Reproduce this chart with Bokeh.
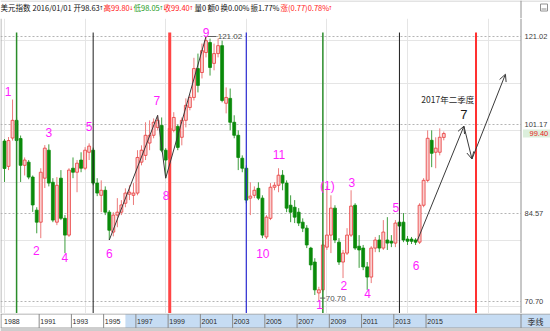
from bokeh.plotting import figure
from bokeh.models import Range1d, FixedTicker, Grid, Arrow, OpenHead
from bokeh.layouts import column
from bokeh.embed import file_html
from bokeh.resources import INLINE
from bokeh.core.properties import value

# ---------------- data (US Dollar Index, quarterly, 1988Q4 .. 2016Q1) ----------------
opens = [97.9, 93.0, 98.5, 102.1, 98.4, 93.2, 93.8, 91.0, 85.1, 83.05,
         90.8, 96.1, 90.05, 83.05, 90.8, 83.7, 80.9, 92.65, 91.9, 94.2,
         92.65, 95.7, 96.1, 89.9, 87.7, 88.6, 84.75, 81.4, 84.25, 84.75,
         86.3, 87.9, 87.7, 88.1, 93.8, 95.1, 97.5, 99.05, 100.65, 101.05,
         96.1, 94.55, 100.05, 100.85, 98.65, 102.1, 104.8, 106.95, 113.4, 112.5,
         117.15, 119.55, 114.6, 116.9, 118.8, 105.7, 106.75, 101.7, 99.05, 94.55,
         92.65, 87.2, 87.7, 88.95, 87.2, 80.6, 83.7, 89.15, 89.5, 91.35,
         89.9, 85.95, 85.6, 84.75, 83.05, 82.05, 78.8, 76.6, 71.95, 72.4,
         78.95, 80.9, 85.45, 79.75, 76.6, 78.0, 80.9, 85.95, 79.1, 78.8,
         75.85, 74.3, 78.8, 80.1, 78.8, 80.1, 79.9, 79.6, 83.05, 83.05,
         80.25, 80.25, 80.1, 79.75, 85.95, 90.4, 98.05, 95.7, 95.7, 98.63]
highs = [98.3, 98.7, 106.5, 102.7, 99.0, 94.7, 94.2, 91.3, 85.6, 92.65,
         97.1, 97.25, 90.8, 91.0, 92.3, 84.25, 92.65, 94.7, 94.2, 95.7,
         96.7, 97.45, 96.6, 90.8, 90.4, 89.3, 85.1, 84.75, 87.2, 86.85,
         88.95, 89.5, 89.9, 96.1, 97.05, 101.7, 102.1, 102.5, 103.15, 102.7,
         96.5, 101.05, 103.8, 101.25, 102.7, 106.75, 107.6, 115.9, 116.9, 119.3,
         121.02, 120.5, 119.3, 120.5, 120.0, 109.15, 108.9, 103.15, 100.05, 95.1,
         93.2, 90.05, 89.3, 90.05, 87.7, 84.25, 89.9, 90.05, 92.65, 92.3,
         90.4, 87.7, 86.85, 85.45, 83.7, 82.55, 79.0, 77.2, 72.85, 80.1,
         89.35, 87.7, 85.95, 80.4, 78.5, 82.05, 88.6, 86.3, 80.9, 79.3,
         76.6, 79.1, 80.6, 80.9, 83.4, 83.9, 80.9, 83.4, 83.4, 84.6,
         80.75, 80.6, 80.4, 86.3, 90.8, 100.05, 100.05, 98.65, 100.45, 99.80]
lows = [90.1, 92.3, 98.0, 94.2, 90.1, 91.3, 90.6, 84.8, 81.2, 80.4,
        89.0, 89.3, 83.05, 82.55, 83.4, 78.0, 80.6, 90.8, 88.25, 91.9,
        92.3, 94.2, 89.5, 87.55, 84.75, 84.25, 80.1, 80.7, 82.2, 84.25,
        85.6, 86.85, 86.0, 87.7, 93.2, 94.2, 96.1, 98.45, 100.05, 95.7,
        90.8, 93.2, 99.65, 96.1, 97.05, 100.65, 104.2, 106.3, 108.05, 111.15,
        116.0, 111.8, 113.0, 116.0, 105.9, 103.55, 100.05, 98.45, 92.3, 91.9,
        86.3, 84.25, 87.2, 86.85, 80.4, 80.25, 83.4, 88.6, 88.25, 88.6,
        84.75, 83.05, 82.9, 82.4, 81.4, 78.8, 75.35, 71.65, 70.70, 72.1,
        78.5, 78.0, 79.6, 76.15, 74.15, 77.7, 80.6, 78.5, 75.7, 75.35,
        72.4, 73.4, 78.15, 78.15, 78.5, 78.5, 78.95, 78.95, 81.7, 79.75,
        79.3, 79.45, 79.3, 79.45, 85.6, 90.05, 92.85, 92.65, 95.1, 98.05]
closes = [92.6, 98.0, 102.1, 98.0, 93.2, 94.2, 91.0, 86.0, 83.05, 91.9,
          96.5, 89.9, 83.4, 89.5, 83.7, 80.9, 92.3, 91.9, 93.6, 92.65,
          96.1, 96.9, 89.9, 88.1, 88.6, 84.75, 81.7, 84.25, 84.75, 86.0,
          88.1, 88.25, 88.1, 94.7, 96.1, 99.05, 99.05, 101.7, 102.1, 96.1,
          94.2, 100.45, 102.7, 96.65, 102.1, 105.25, 106.95, 113.4, 109.6, 117.6,
          120.0, 113.65, 116.9, 118.8, 106.3, 106.95, 101.7, 99.05, 94.7, 92.65,
          86.85, 87.55, 88.6, 87.2, 80.9, 83.9, 89.15, 89.5, 91.35, 89.9,
          85.45, 84.75, 83.9, 82.9, 82.05, 79.3, 76.15, 72.4, 72.4, 79.3,
          80.9, 85.45, 80.1, 76.6, 78.0, 80.9, 85.8, 78.8, 78.5, 75.85,
          74.3, 78.8, 80.1, 78.8, 81.4, 79.6, 79.6, 82.9, 82.4, 80.1,
          79.9, 79.9, 79.75, 85.95, 90.4, 98.45, 95.5, 96.5, 98.65, 99.40]

tick_prices = [70.70, 84.57, 101.17, 121.02]
tick_labels = ["70.70", "84.57", "101.17", "121.02"]
last_close = 99.40
high_mark = 121.02
low_mark = 70.70

year_labels = ["1988", "1991", "1993", "1995", "1997", "1999", "2001",
               "2003", "2005", "2007", "2009", "2011", "2013", "2015"]
year_bars = [0, 9, 17, 25, 33, 41, 49, 57, 65, 73, 81, 89, 97, 105]
shade_start_bar = 30

cycle_bars = [3, 22, 41, 60, 79, 98, 117]
cycle_colors = ["#2a8c2a", "#1e1e1e", "#ff4545", "#2a2ad2", "#2a8c2a", "#1e1e1e", "#ff3030"]
cycle_widths = [1.5, 1.0, 3.0, 1.2, 1.5, 1.0, 2.0]

wave_text = ["1", "2", "3", "4", "5", "6", "7", "8", "9", "10", "11",
             "(1)", "1", "2", "3", "4", "5", "6"]
wave_x = [0.9, 7.9, 11.0, 15.0, 21.0, 26.0, 37.8, 40.1, 50.0, 64.1, 68.1,
          80.1, 78.2, 84.2, 86.2, 90.1, 97.1, 102.1]
wave_y = [108.3, 78.4, 99.6, 77.3, 100.9, 77.9, 106.2, 87.7, 122.0, 77.9, 95.3,
          89.3, 70.3, 73.0, 90.0, 71.8, 85.6, 76.0]

past_wave_x = [26, 38, 40, 50]
past_wave_y = [80.1, 103.15, 90.8, 121.02]
forecast_x = [102.4, 114.0, 116.0, 124.3]
forecast_y = [79.96, 100.9, 94.4, 112.1]

header_text = ["美元指数", "2016/01/01", "开98.63", "高99.80", "低98.05", "收99.40",
               "量0", "额0", "换0.00%", "振1.77%", "涨(0.77)0.78%"]
header_colors = ["#111111", "#111111", "#111111", "#ff2020", "#1a9a1a", "#ff2020",
                 "#111111", "#111111", "#111111", "#111111", "#ff2020"]
header_x = [0, 32, 73, 103, 133, 163, 194, 207, 220, 250, 280]
arrow_text = ["↑", "↓", "↑", "↑", "↑"]
arrow_colors = ["#111111", "#ff2020", "#1a9a1a", "#ff2020", "#ff2020"]
arrow_x = [98.5, 128.5, 158.5, 188.5, 327.5]

# ---------------- geometry ----------------
W, PLOT_W = 550, 520
X0, DX = 4.0, 4.03          # pixel of first bar, pixels per quarter
HDR_H, MAIN_H, STRIP_H = 18, 295, 18
Y_TOP, Y_BOT = 125.52, 69.01
CN = value("Noto Sans CJK SC")
LAT = value("Liberation Sans")
RED_UP, PINK = "#e83a3a", "#f9cfcf"
GREEN = "#0a8a0a"

def px2bar(px):
    return (px - X0) / DX

N = len(opens)
xs = list(range(N))
up = [i for i in xs if closes[i] >= opens[i]]
dn = [i for i in xs if closes[i] < opens[i]]

# ---------------- header ----------------
hdr = figure(width=W, height=HDR_H, x_range=Range1d(0, W), y_range=Range1d(HDR_H, 0),
             toolbar_location=None, output_backend="svg", min_border=0,
             x_axis_location=None, y_axis_location=None)
hdr.outline_line_color = None
hdr.xgrid.grid_line_color = None
hdr.ygrid.grid_line_color = None
hdr.text(x=header_x, y=[7] * len(header_x), text=header_text, text_color=header_colors,
         text_align="left", text_baseline="middle", text_font=CN, text_font_size=value("7.5px"))
hdr.text(x=arrow_x, y=[7] * len(arrow_x), text=arrow_text, text_color=arrow_colors,
         text_align="left", text_baseline="middle", text_font=value("DejaVu Sans"),
         text_font_size=value("5.5px"))
hdr.segment(x0=[0], y0=[0.5], x1=[W], y1=[0.5], line_color="#c8c8c8", line_width=1)
hdr.segment(x0=[PLOT_W + 0.5], y0=[0], x1=[PLOT_W + 0.5], y1=[HDR_H], line_color="#909090", line_width=1)
hdr.rect(x=[543.5], y=[7], width=7, height=7, fill_color=None, line_color="#909090", line_width=1)
hdr.segment(x0=[541], y0=[8.5], x1=[546], y1=[8.5], line_color="#909090", line_width=1)

# ---------------- main chart (frame spans the price column too) ----------------
p = figure(width=W, height=MAIN_H,
           x_range=Range1d(px2bar(0), px2bar(W)), y_range=Range1d(Y_BOT, Y_TOP),
           y_axis_type="log", x_axis_location=None, y_axis_location=None,
           toolbar_location=None, output_backend="svg", min_border=0)
p.outline_line_color = None
p.background_fill_color = "white"
p.border_fill_color = "white"
ticker = FixedTicker(ticks=tick_prices)
p.add_layout(Grid(dimension=1, ticker=ticker, grid_line_color="#b4b4b4",
                  grid_line_dash="2 2", grid_line_width=1))

# price column background (hides grid beyond the plot area) and its edge
p.quad(left=[px2bar(PLOT_W + 0.5)], right=[px2bar(W)], bottom=[Y_BOT], top=[Y_TOP],
       fill_color="white", line_color=None)
p.segment(x0=[px2bar(PLOT_W + 0.5)], y0=[Y_TOP], x1=[px2bar(PLOT_W + 0.5)], y1=[Y_BOT],
          line_color="#909090", line_width=1)
p.segment(x0=[px2bar(0.5)], y0=[Y_TOP], x1=[px2bar(0.5)], y1=[Y_BOT], line_color="#a8a8a8", line_width=1)

# price labels
p.text(x=[px2bar(PLOT_W + 4)] * len(tick_prices), y=tick_prices, text=tick_labels,
       text_color="#404040", text_align="left", text_baseline="middle",
       text_font=LAT, text_font_size=value("7.5px"))
p.rect(x=[px2bar(536)], y=[last_close], width=27 / DX, height=8, height_units="screen",
       fill_color="#dcefdc", line_color=None)
p.text(x=[px2bar(529)], y=[last_close], text=["%.2f" % last_close], text_color="#e82020",
       text_align="left", text_baseline="middle", text_font=LAT, text_font_size=value("7.5px"))

# candles
p.segment(x0=[xs[i] for i in dn], y0=[lows[i] for i in dn], x1=[xs[i] for i in dn],
          y1=[highs[i] for i in dn], line_color="#3d9d3d", line_width=1)
p.segment(x0=[xs[i] for i in up], y0=[lows[i] for i in up], x1=[xs[i] for i in up],
          y1=[highs[i] for i in up], line_color="#ec7a7a", line_width=1)
p.vbar(x=[xs[i] for i in dn], width=0.72, bottom=[closes[i] for i in dn], top=[opens[i] for i in dn],
       fill_color=GREEN, line_color=GREEN, line_width=0.8)
p.vbar(x=[xs[i] for i in up], width=0.72, bottom=[opens[i] for i in up], top=[closes[i] for i in up],
       fill_color=PINK, line_color=RED_UP, line_width=0.8)

# cycle lines
p.segment(x0=cycle_bars, y0=[122.0] * len(cycle_bars), x1=cycle_bars, y1=[Y_BOT] * len(cycle_bars),
          line_color=cycle_colors, line_width=cycle_widths)

# wave path 6-7-8-9
p.line(past_wave_x, past_wave_y, line_color="#3a3a3a", line_width=1)

# forecast arrows
for k in range(len(forecast_x) - 1):
    p.add_layout(Arrow(end=OpenHead(size=7, line_color="#3a3a3a", line_width=1),
                       x_start=forecast_x[k], y_start=forecast_y[k],
                       x_end=forecast_x[k + 1], y_end=forecast_y[k + 1],
                       line_color="#3a3a3a", line_width=1))

# high / low marks
p.line([50.3, 52.6], [high_mark, high_mark], line_color="#606060", line_width=1)
p.text(x=[52.9], y=[high_mark], text=["%.2f" % high_mark], text_color="#505050",
       text_align="left", text_baseline="middle", text_font=LAT, text_font_size=value("8px"))
p.line([78.3, 79.6], [71.2, 71.2], line_color="#606060", line_width=1)
p.text(x=[79.7], y=[71.2], text=["%.2f" % low_mark], text_color="#505050",
       text_align="left", text_baseline="middle", text_font=LAT, text_font_size=value("8px"))

# wave labels
p.text(x=wave_x, y=wave_y, text=wave_text, text_color="#ff1cff", text_align="center",
       text_baseline="middle", text_font=LAT, text_font_size=value("12px"))
p.text(x=[114.0], y=[103.4], text=["7"], text_color="#1a1a1a", text_align="center",
       text_baseline="middle", text_font=LAT, text_font_size=value("13px"))
p.text(x=[110.0], y=[106.6], text=["2017年二季度"], text_color="#2a2a2a", text_align="center",
       text_baseline="middle", text_font=CN, text_font_size=value("8.5px"))

# ---------------- bottom date strip ----------------
st = figure(width=W, height=STRIP_H, x_range=Range1d(px2bar(0), px2bar(W)), y_range=Range1d(STRIP_H, 0),
            toolbar_location=None, output_backend="svg", min_border=0,
            x_axis_location=None, y_axis_location=None)
st.outline_line_color = None
st.xgrid.grid_line_color = None
st.ygrid.grid_line_color = None
st.quad(left=[shade_start_bar], right=[px2bar(W)], top=[0.5], bottom=[14.5],
        fill_color="#c6dcf3", line_color=None)
st.segment(x0=[px2bar(0)] * 3, y0=[0.5, 14.5, 16.5], x1=[px2bar(W)] * 3, y1=[0.5, 14.5, 16.5],
           line_color="#9c9c9c", line_width=1)
sep_x = [b - 0.4 for b in year_bars[1:]] + [px2bar(0.5), px2bar(PLOT_W + 0.5)]
st.segment(x0=sep_x, y0=[0.5] * len(sep_x), x1=sep_x, y1=[14.5] * len(sep_x),
           line_color="#8a8a8a", line_width=1)
st.text(x=[b - 0.1 for b in year_bars], y=[7.8] * len(year_bars), text=year_labels,
        text_color="#2a2a2a", text_align="left", text_baseline="middle",
        text_font=LAT, text_font_size=value("7px"))
st.text(x=[px2bar(535)], y=[7.8], text=["季线"], text_color="#2a2a2a", text_align="center",
        text_baseline="middle", text_font=CN, text_font_size=value("8px"))

layout = column(hdr, p, st, spacing=0)
open("out.html", "w").write(file_html(layout, INLINE))
